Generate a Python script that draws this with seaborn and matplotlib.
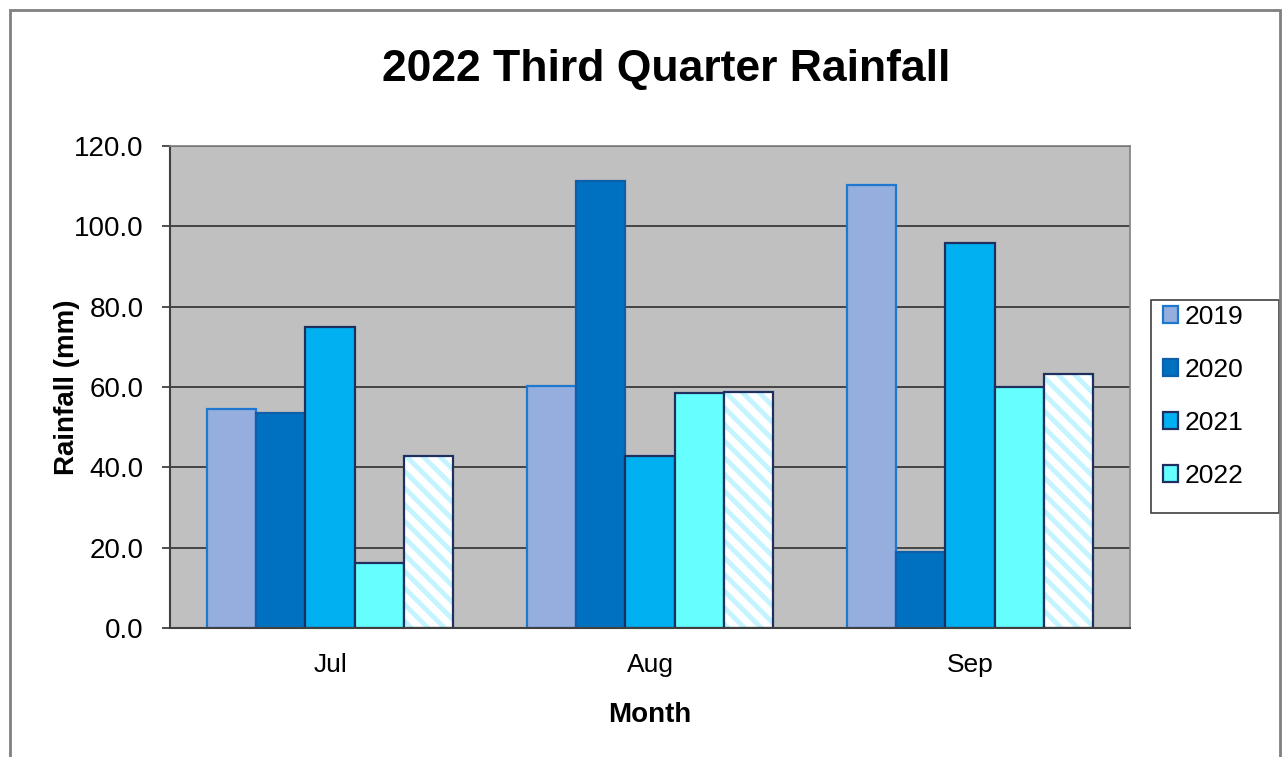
import pandas as pd
import seaborn as sns
import matplotlib.pyplot as plt
from matplotlib.patches import Rectangle

# Datos
months = ['Jul', 'Aug', 'Sep']
years = ['2019', '2020', '2021', '2022']
rain_2019 = [54.4, 60.2, 110.3]
rain_2020 = [53.6, 111.3, 18.8]
rain_2021 = [74.9, 42.8, 95.9]
rain_2022 = [16.3, 58.5, 60.1]
rain_hatched = [42.8, 58.8, 63.2]
y_ticks = [0, 20, 40, 60, 80, 100, 120]

sns.set_theme(style='white')
plt.rcParams['font.family'] = ['Liberation Sans', 'DejaVu Sans']
plt.rcParams['text.color'] = 'black'
plt.rcParams['axes.labelcolor'] = 'black'
plt.rcParams['xtick.color'] = 'black'
plt.rcParams['ytick.color'] = 'black'
plt.rcParams['hatch.linewidth'] = 3.5

series = years + ['other']
values = [rain_2019, rain_2020, rain_2021, rain_2022, rain_hatched]
df = pd.DataFrame({
    'Month': [m for _ in series for m in months],
    'Series': [s for s in series for _ in months],
    'Rainfall': [v for vals in values for v in vals],
})

faces = ['#95AEDE', '#0070C0', '#00B0F0', '#66FFFF', 'white']
edges = ['#1F78D0', '#0E5FAA', '#1F3060', '#1F3060', '#1F3060']

fig = plt.figure(figsize=(12.83, 7.57), dpi=100)
ax = fig.add_axes([170 / 1283, 1 - 628 / 757, 960 / 1283, 482 / 757])
ax.set_facecolor('#C0C0C0')
ax.set_axisbelow(True)
ax.grid(axis='y', color='#3A3A3A', linewidth=1.3)

sns.barplot(data=df, x='Month', y='Rainfall', hue='Series', order=months,
            hue_order=series, palette=faces, width=0.77, saturation=1,
            legend=False, ax=ax)

for i, cont in enumerate(ax.containers):
    for bar in cont:
        bar.set_facecolor(faces[i])
        bar.set_edgecolor(edges[i])
        bar.set_linewidth(1.6)
        if series[i] == 'other':
            bar.set_hatch('\\\\')
            bar.set_edgecolor('#C4F4FF')
            bar.set_linewidth(0)
            ax.add_patch(Rectangle(bar.get_xy(), bar.get_width(), bar.get_height(),
                                   facecolor='none', edgecolor=edges[i], linewidth=1.6,
                                   zorder=bar.get_zorder() + 0.1))

ax.set_ylim(0, 120)
ax.set_xlim(-0.5, 2.5)
ax.set_yticks(y_ticks)
ax.set_yticklabels([f'{t:.1f}' for t in y_ticks], fontsize=20)
ax.set_xticks(range(len(months)))
ax.set_xticklabels(months, fontsize=19)
ax.set_xticks([-0.5, 0.5, 1.5, 2.5], minor=True)
ax.tick_params(axis='x', which='major', length=0, pad=18)
ax.tick_params(axis='x', which='minor', length=7, width=1.3, color='#404040', direction='out')
ax.tick_params(axis='y', length=6, width=1.3, color='#404040', direction='out', pad=13, left=True)

for side in ['left', 'bottom']:
    ax.spines[side].set_color('#404040')
    ax.spines[side].set_linewidth(1.5)
for side in ['top', 'right']:
    ax.spines[side].set_color('#808080')
    ax.spines[side].set_linewidth(1.2)

ax.set_xlabel('Month', fontsize=20, fontweight='bold', labelpad=18)
ax.set_ylabel('Rainfall (mm)', fontsize=20, fontweight='bold', labelpad=-4)
fig.text(666 / 1283, 1 - 70 / 757, '2022 Third Quarter Rainfall', ha='center', va='center',
         fontsize=32, fontweight='bold')

handles = [ax.containers[i][0] for i in range(len(years))]
leg = fig.legend(handles, years, loc='upper left',
                 bbox_to_anchor=(1160 / 1283, 1 - 302 / 757), fontsize=19,
                 frameon=False, handlelength=0.6, handleheight=0.6, handletextpad=0.25,
                 labelspacing=1.1, borderpad=0.1, borderaxespad=0)

# Caja de la leyenda y borde exterior
fig.patches.append(Rectangle((1151 / 1283, 1 - 513 / 757), 128 / 1283, 213 / 757,
                             transform=fig.transFigure, fill=False,
                             edgecolor='#404040', linewidth=1.2))
fig.patches.append(Rectangle((10 / 1283, -0.05), 1270 / 1283, 1.05 - 10 / 757,
                             transform=fig.transFigure, fill=False,
                             edgecolor='#808080', linewidth=2))

plt.savefig('out.png', dpi=100)
plt.close()
